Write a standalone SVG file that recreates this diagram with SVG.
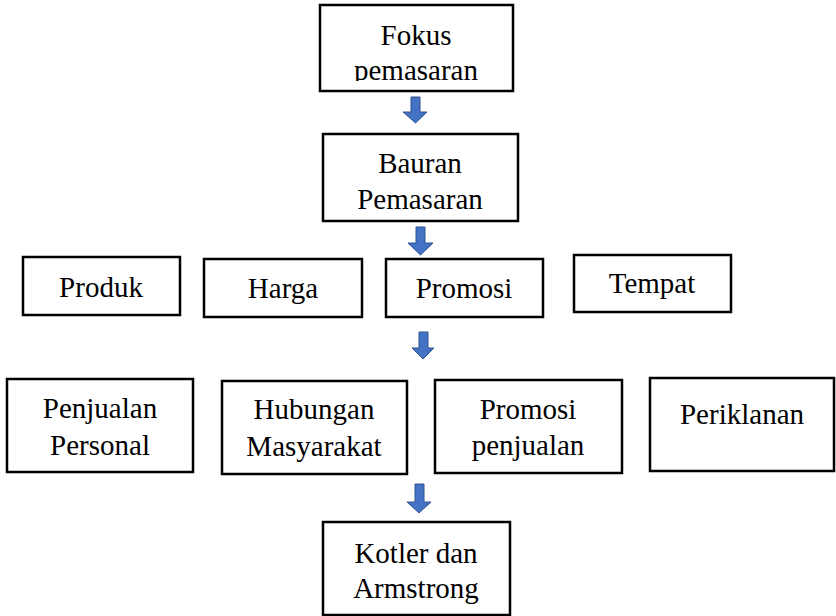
<svg xmlns="http://www.w3.org/2000/svg" width="836" height="616" viewBox="0 0 836 616">
<style>
.box{fill:#fff;stroke:#000;stroke-width:2.5}
.t{font-family:'Liberation Serif','Times New Roman',Tinos,'Noto Serif','DejaVu Serif',serif;font-size:29px;fill:#000;text-anchor:middle}
.arr{fill:#4472C4;stroke:#2F528F;stroke-width:1}
</style>
<defs>
<clipPath id="clipFokus"><rect x="320" y="5" width="193" height="76"/></clipPath>
</defs>
<rect width="836" height="616" fill="#fff"/>
<g id="connectors">
<path class="arr" d="M411,97 H420 V112 H427 L415.5,123 L403,112 H411 Z"/>
<path class="arr" d="M416,227 H425 V243 H433 L420.5,255 L408,243 H416 Z"/>
<path class="arr" d="M419,332 H428 V348 H434 L423,359 L412,348 H419 Z"/>
<path class="arr" d="M415,484 H424 V502 H431 L419,513 L407,502 H415 Z"/>
</g>
<g id="fokus">
<rect class="box" x="320" y="5" width="193" height="86"/>
<g clip-path="url(#clipFokus)">
<text class="t" x="416" y="45">Fokus</text>
<text class="t" x="416" y="80">pemasaran</text>
</g>
</g>
<g id="bauran">
<rect class="box" x="323" y="134" width="195" height="87"/>
<text class="t" x="420" y="173">Bauran</text>
<text class="t" x="420" y="209">Pemasaran</text>
</g>
<g id="produk">
<rect class="box" x="23" y="257" width="157" height="58"/>
<text class="t" x="101" y="297">Produk</text>
</g>
<g id="harga">
<rect class="box" x="204" y="259" width="158" height="58"/>
<text class="t" x="283" y="298">Harga</text>
</g>
<g id="promosi">
<rect class="box" x="386" y="259" width="157" height="58"/>
<text class="t" x="464" y="298">Promosi</text>
</g>
<g id="tempat">
<rect class="box" x="574" y="255" width="157" height="57"/>
<text class="t" x="652" y="293">Tempat</text>
</g>
<g id="penjualan-personal">
<rect class="box" x="7" y="379" width="186" height="93"/>
<text class="t" x="100" y="418">Penjualan</text>
<text class="t" x="100" y="455">Personal</text>
</g>
<g id="hubungan-masyarakat">
<rect class="box" x="222" y="381" width="185" height="93"/>
<text class="t" x="314" y="419">Hubungan</text>
<text class="t" x="314" y="456">Masyarakat</text>
</g>
<g id="promosi-penjualan">
<rect class="box" x="435" y="380" width="187" height="93"/>
<text class="t" x="528" y="419">Promosi</text>
<text class="t" x="528" y="455">penjualan</text>
</g>
<g id="periklanan">
<rect class="box" x="650" y="378" width="184" height="93"/>
<text class="t" x="742" y="424">Periklanan</text>
</g>
<g id="kotler">
<rect class="box" x="323" y="522" width="187" height="93"/>
<text class="t" x="416" y="563">Kotler dan</text>
<text class="t" x="416" y="598">Armstrong</text>
</g>
</svg>
